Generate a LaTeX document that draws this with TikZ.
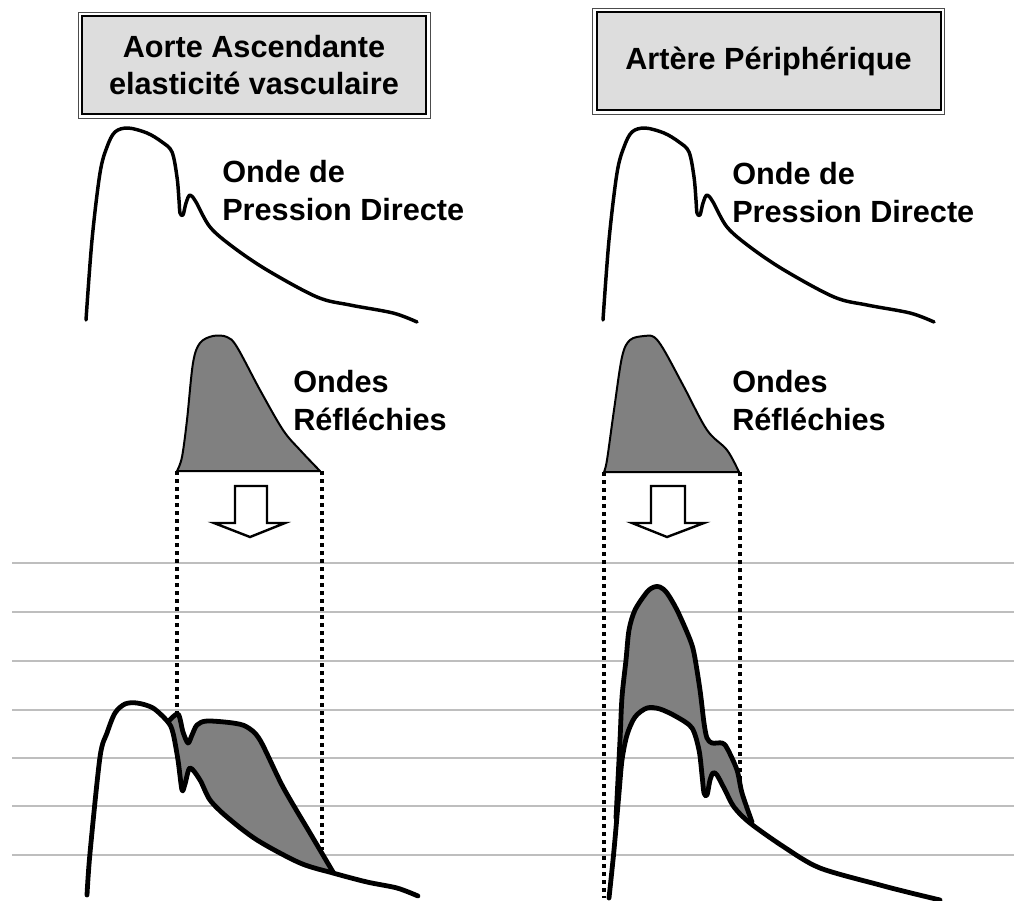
\documentclass[tikz,border=0pt]{standalone}
\usepackage{fontspec}
\setmainfont{Liberation Sans}
\usepackage{pgf,tikz}
\usetikzlibrary{calc,positioning}
\definecolor{boxgray}{HTML}{DDDDDD}
\definecolor{wavegray}{HTML}{808080}
\definecolor{linegray}{HTML}{BEBEBE}
\tikzstyle{titlebox} = [draw=black, fill=boxgray, line width=1.5pt, rectangle, inner sep=0pt, minimum width=258pt, minimum height=73.5pt, align=center, font=\fontsize{23}{28}\selectfont\bfseries]
\tikzstyle{wavetext} = [anchor=base west, inner sep=0pt, align=left, font=\fontsize{23}{28.5}\selectfont\bfseries]
\tikzstyle{ruleline} = [draw=linegray, line width=1.1pt]
\tikzstyle{thinwave} = [line width=2.6pt, line join=round, line cap=round]
\tikzstyle{thickwave} = [line width=3.6pt, line join=round, line cap=round]
\tikzstyle{reflwave} = [draw=black, fill=wavegray, line width=1.5pt, line join=round]
\tikzstyle{guide} = [line width=3.6pt, dash pattern=on 3pt off 3pt]
\tikzstyle{hollowarrow} = [draw=black, fill=white, line width=1.8pt, line join=miter]

\begin{document}
\begin{tikzpicture}[x=0.75pt, y=-0.75pt]
\useasboundingbox (0,0) rectangle (1014,900);

% titres
\node[titlebox] (aorte) at (254,65) {Aorte Ascendante\\elasticit\'e vasculaire};
\node[titlebox] (artere) at (768.5,61) {Art\`ere P\'eriph\'erique};
\draw[line width=0.75pt, black!70] ($(aorte.north west)+(-3,-3)$) rectangle ($(aorte.south east)+(3,3)$);
\draw[line width=0.75pt, black!70] ($(artere.north west)+(-3,-3)$) rectangle ($(artere.south east)+(3,3)$);

% onde directe
\foreach \dx in {0,517} {
\draw[thinwave, xshift=\dx*0.75pt] plot[smooth, tension=0.55] coordinates {(86,320) (92,240) (100,173) (107,147) (115,132) (128,128) (147,133) (162,142) (172,152) (177,177) (179,200) (180,213) (183,215) (186,203) (190,195) (196,202) (210,227) (233,247) (267,270) (317,297) (350,305) (393,313) (417,322)};
}
\node[wavetext] (directeA) at (222,220) {Onde de\\Pression Directe};
\node[wavetext] (directeB) at (732,222) {Onde de\\Pression Directe};

% ondes reflechies
\draw[reflwave] plot[smooth, tension=0.55] coordinates {(177,471) (182,457) (187,420) (193,363) (200,343) (213,336) (227,337) (237,347) (260,390) (283,430) (300,450) (320,471)} -- cycle;
\draw[reflwave] plot[smooth, tension=0.55] coordinates {(604,472) (607,460) (614,410) (622,357) (630,340) (644,336) (654,337) (664,350) (684,387) (707,430) (727,450) (739,472)} -- cycle;
\node[wavetext] (reflA) at (293,430) {Ondes\\R\'efl\'echies};
\node[wavetext] (reflB) at (732,430) {Ondes\\R\'efl\'echies};

% fleches
\draw[hollowarrow] (235,486) -- (267,486) -- (267,523) -- (285,523) -- (250,537) -- (214,523) -- (235,523) -- cycle;
\draw[hollowarrow] (651,486) -- (685,486) -- (685,523) -- (704,523) -- (667,537) -- (632,523) -- (651,523) -- cycle;

% lignes grises
\foreach \y in {563,612,661,710,758,806,855}
  \draw[ruleline] (12,\y) -- (1014,\y);

% somme aorte
\fill[wavegray] plot[smooth, tension=0.5] coordinates {(168,722) (178,714) (183,732) (188,743) (192,735) (197,725) (207,721) (233,723) (247,727) (260,740) (283,787) (310,833) (333,872)}
  -- plot[smooth, tension=0.5] coordinates {(300,863) (257,840) (227,817) (210,800) (200,780) (190,768) (182,790) (178,760) (173,733)} -- cycle;
\draw[thickwave] plot[smooth, tension=0.5] coordinates {(168,722) (178,714) (183,732) (188,743) (192,735) (197,725) (207,721) (233,723) (247,727) (260,740) (283,787) (310,833) (333,872)};
\draw[thickwave] plot[smooth, tension=0.5] coordinates {(87,895) (90,853) (100,757) (107,733) (115,713) (125,704) (137,703) (153,708) (168,722) (173,733) (178,760) (182,790) (185,784) (190,768) (200,780) (210,800) (227,817) (257,840) (300,863) (333,873) (367,882) (397,888) (418,896)};

% somme peripherique
\fill[wavegray] plot[smooth, tension=0.5] coordinates {(616,818) (620,740) (622,697) (626,660) (629,630) (635,610) (647,592) (654,587) (660,587) (667,593) (677,610) (689,637) (694,653) (700,690) (704,723) (707,738) (712,743) (722,743) (727,748) (737,770) (742,793) (752,822)}
  -- plot[smooth, tension=0.5] coordinates {(734,807) (725,790) (717,775) (713,773) (710,780) (707,795) (704,793) (702,775) (699,750) (692,728) (677,717) (660,709) (647,708) (635,717) (627,735) (622,760) (619,793)} -- cycle;
\draw[thickwave] plot[smooth, tension=0.5] coordinates {(616,818) (620,740) (622,697) (626,660) (629,630) (635,610) (647,592) (654,587) (660,587) (667,593) (677,610) (689,637) (694,653) (700,690) (704,723) (707,738) (712,743) (722,743) (727,748) (737,770) (742,793) (752,822)};
\draw[thickwave] plot[smooth, tension=0.5] coordinates {(609,898) (614,850) (619,793) (622,760) (627,735) (635,717) (647,708) (660,709) (677,717) (692,728) (699,750) (702,775) (704,793) (707,795) (710,780) (713,773) (717,775) (725,790) (734,807) (750,823) (784,847) (820,868) (880,885) (907,892) (940,900)};

% pointilles
\draw[guide] (177,471) -- (177,713);
\draw[guide] (322,471) -- (322,850);
\draw[guide] (604,472) -- (604,898);
\draw[guide] (740,472) -- (740,780);
\end{tikzpicture}
\end{document}
